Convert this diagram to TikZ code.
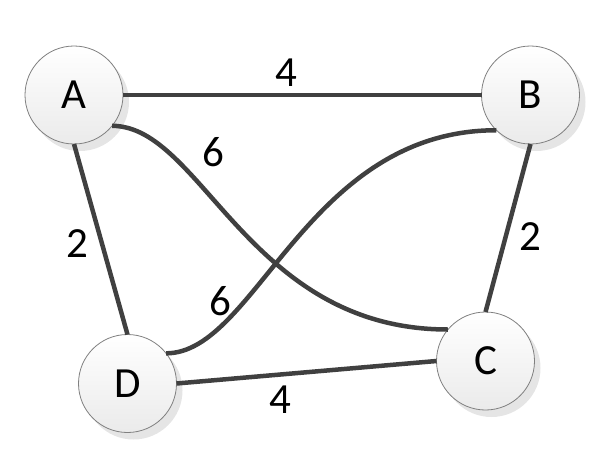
\documentclass[tikz,border=0pt]{standalone}
\usepackage{fontspec}
\setmainfont{Carlito}
\begin{document}
\begin{tikzpicture}[x=1pt,y=-1pt,
  vtx/.style={circle, draw=black!50, line width=0.8pt, top color=white, bottom color=black!8, minimum size=98pt, inner sep=0pt, outer sep=0pt, font=\fontsize{43}{43}\selectfont},
  vshadow/.style={circle, fill=black!10, minimum size=98pt, inner sep=0pt, outer sep=0pt, draw=none},
  edge/.style={line width=4.5pt, draw=black!75},
  wt/.style={font=\fontsize{43}{43}\selectfont, inner sep=0pt}]
\useasboundingbox (0,0) rectangle (592,463);
% shadows
\node[vshadow] (sA) at (80,102) {};
\node[vshadow] (sB) at (536.5,102) {};
\node[vshadow] (sC) at (491.5,368) {};
\node[vshadow] (sD) at (133.5,390.5) {};
% vertices
\node[vtx] (A) at (74,95) {A};
\node[vtx] (B) at (530.5,95) {B};
\node[vtx] (C) at (485.5,361) {C};
\node[vtx] (D) at (127.5,383.5) {D};
% edges
\draw[edge] (A) -- (B);
\draw[edge] (A.south) -- (D.north);
\draw[edge] (B.south) -- (C.north);
\draw[edge] (D.east) -- (C.west);
\draw[edge] (A.-39) .. controls +(90,0) and +(-200,0) .. (C.140);
\draw[edge] (D.38) .. controls +(90,0) and +(-190,0) .. (B.226);
% weights
\node[wt] (wAB) at (286,73) {4};
\node[wt] (wAC) at (213,152) {6};
\node[wt] (wDB) at (220,301) {6};
\node[wt] (wAD) at (77,244) {2};
\node[wt] (wBC) at (530,237) {2};
\node[wt] (wDC) at (280,400) {4};
\end{tikzpicture}
\end{document}
